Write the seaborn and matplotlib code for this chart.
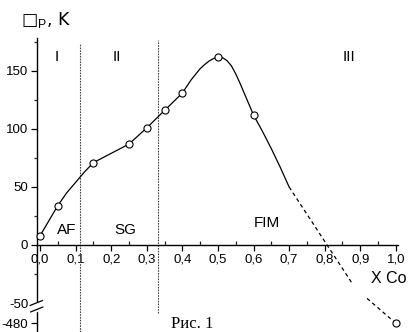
import numpy as np
import matplotlib
matplotlib.use("Agg")
import matplotlib.pyplot as plt
from matplotlib.lines import Line2D
from matplotlib.ticker import FixedLocator, FixedFormatter
import seaborn as sns

# ---- data ----
curve_x = [0.0, 0.05, 0.075, 0.1, 0.125, 0.15, 0.2, 0.25, 0.3, 0.35, 0.4, 0.425,
           0.45, 0.4625, 0.475, 0.4875, 0.5, 0.5125, 0.525, 0.5375, 0.55, 0.5625,
           0.575, 0.5875, 0.6, 0.625, 0.65, 0.675, 0.7]
curve_y = [8, 34, 45, 54, 63, 71, 79, 87, 101, 116, 131, 142.5,
           152, 155.5, 158.5, 160.7, 162, 161.5, 159, 154.5, 147.5, 139,
           130, 121, 112, 98, 83, 67, 50]
dash1_x = [0.7, 0.877]
dash1_y = [50, -33]
dash2_x = [0.919, 1.0]
dash2_y = [-46, -480]
pts_x = [0.0, 0.05, 0.15, 0.25, 0.3, 0.35, 0.4, 0.5, 0.6, 1.0]
pts_y = [8, 34, 71, 87, 101, 116, 131, 162, 112, -480]
boundary_x = [0.1125, 0.331]
boundary_top = [173, 177]
boundary_bottom = [-664, -260]
xticks = [0.0, 0.1, 0.2, 0.3, 0.4, 0.5, 0.6, 0.7, 0.8, 0.9, 1.0]
xticklabels = ["0,0", "0,1", "0,2", "0,3", "0,4", "0,5", "0,6", "0,7", "0,8", "0,9", "1,0"]
yticks = [-480, -50, 0, 50, 100, 150]
yticklabels = ["-480", "-50", "0", "50", "100", "150"]
yminor = [-25, 25, 75, 125, 175]
regions = ["I", "II", "III"]
region_x = [0.048, 0.216, 0.868]
phases = ["AF", "SG", "FIM"]
phase_x = [0.076, 0.239, 0.638]
phase_y = [13, 13, 19]

sns.set_theme(style="white")
plt.rcParams['font.family'] = ['Liberation Sans Narrow', 'Liberation Sans', 'DejaVu Sans']
plt.rcParams['mathtext.fontset'] = 'custom'
plt.rcParams['mathtext.rm'] = 'Liberation Sans'

W, H = 408, 332
fig = plt.figure(figsize=(W / 100, H / 100), dpi=100)
ax = fig.add_axes([36.5 / W, 0.0, 361.5 / W, 1 - 38 / H])

R = 17.5 / 430.0


def fwd(y):
    y = np.asarray(y, dtype=float)
    return np.where(y >= -50, y, -50 + (y + 50) * R)


def inv(t):
    t = np.asarray(t, dtype=float)
    return np.where(t >= -50, t, -50 + (t + 50) / R)


ax.set_yscale('function', functions=(fwd, inv))

# boundaries
for bx, bt, bb in zip(boundary_x, boundary_top, boundary_bottom):
    ax.plot([bx, bx], [bb, bt], color='#444444', lw=0.8, ls=(0, (1.5, 1.0)), zorder=1)

sns.lineplot(x=curve_x, y=curve_y, sort=False, estimator=None, color='black', lw=0.9, ax=ax, zorder=2)
sns.lineplot(x=dash1_x, y=dash1_y, sort=False, estimator=None, color='black', lw=0.9,
             linestyle=(0, (3.0, 2.5)), ax=ax, zorder=2)
sns.lineplot(x=dash2_x, y=dash2_y, sort=False, estimator=None, color='black', lw=0.9,
             linestyle=(0, (3.0, 2.5)), ax=ax, zorder=2)
sns.scatterplot(x=pts_x, y=pts_y, marker='o', s=26, facecolor='white', edgecolor='black',
                linewidth=0.8, ax=ax, zorder=3, clip_on=False)

ax.set_xlim(-0.01, 1.006)
ax.set_ylim(-664, 178.4)

for s in ['top', 'right']:
    ax.spines[s].set_visible(False)
ax.spines['bottom'].set_position(('data', 0))
ax.spines['bottom'].set_color('black')
ax.spines['left'].set_color('black')
ax.spines['bottom'].set_linewidth(1.0)
ax.spines['left'].set_linewidth(1.0)

ax.xaxis.set_major_locator(FixedLocator(xticks))
ax.xaxis.set_major_formatter(FixedFormatter(xticklabels))
ax.xaxis.set_minor_locator(FixedLocator([0.05 + 0.1 * i for i in range(10)]))
ax.yaxis.set_major_locator(FixedLocator(yticks))
ax.yaxis.set_major_formatter(FixedFormatter(yticklabels))
ax.yaxis.set_minor_locator(FixedLocator(yminor))

ax.tick_params(axis='x', which='major', direction='out', length=4, width=0.9,
               labelsize=9.5, pad=2, colors='black', bottom=True)
ax.tick_params(axis='x', which='minor', direction='in', length=3, width=0.9, bottom=True)
ax.tick_params(axis='y', which='major', direction='out', length=4.5, width=0.9,
               labelsize=9.5, pad=1.5, colors='black', left=True)
ax.tick_params(axis='y', which='minor', direction='out', length=2.5, width=0.9, left=True)
ax.set_xlabel("")
ax.set_ylabel("")
ax.grid(False)

# hide the -50 tick mark (break symbol sits there)
for t, v in zip(ax.yaxis.get_major_ticks(), yticks):
    if v == -50:
        t.tick1line.set_visible(False)

# texts
for lab, x in zip(regions, region_x):
    ax.text(x, 162, lab, ha='center', va='center', fontsize=11, color='black')
for lab, x, y in zip(phases, phase_x, phase_y):
    ax.text(x, y, lab, ha='center', va='center', fontsize=11, color='black')
ax.text(1.03, -28.5, "X Co", ha='right', va='center', fontsize=11.5, color='black', clip_on=False)

fig.text(21 / W, 1 - 20 / H, "\u25a1$_{\\mathrm{P}}$, K", ha='left', va='center', fontsize=12.5,
         family=['DejaVu Sans'], color='black')


def fp(px, py):
    return px / W, 1 - py / H


# axis break marks
gx0, gy0 = fp(36.5, 303.5)
gx1, gy1 = fp(36.5, 309.5)
fig.add_artist(Line2D([gx0, gx1], [gy0, gy1], color='white', lw=2.5, zorder=10))
for (a, b, c, d) in [(30, 305.5, 42.5, 300.5), (30.5, 312, 43, 307)]:
    x0, y0 = fp(a, b)
    x1, y1 = fp(c, d)
    fig.add_artist(Line2D([x0, x1], [y0, y1], color='black', lw=0.9, zorder=11))

fig.text(171 / W, 1 - 328 / H, "Рис. 1", ha='left', va='baseline', fontsize=12,
         family=['Liberation Serif', 'DejaVu Serif'], color='black')

fig.savefig("out.png", dpi=100)
